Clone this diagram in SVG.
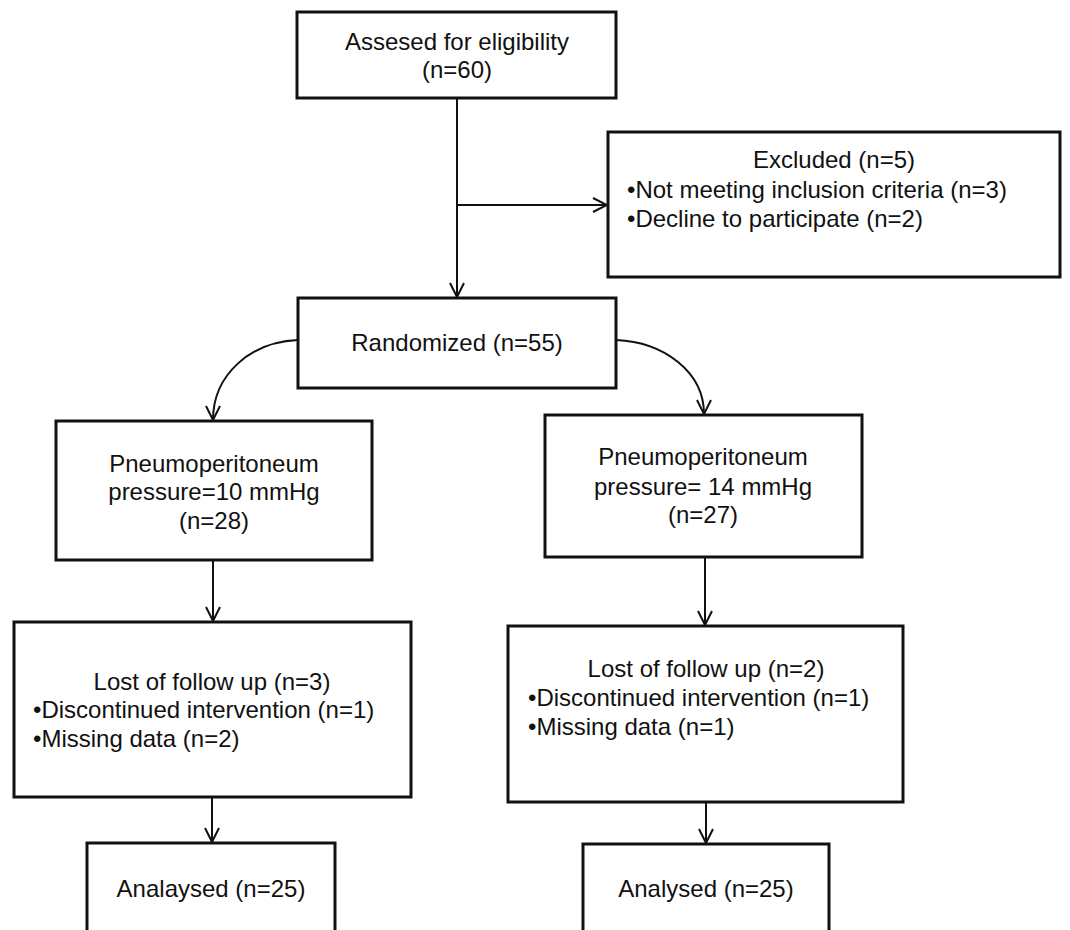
<svg xmlns="http://www.w3.org/2000/svg" width="1070" height="930" viewBox="0 0 1070 930">
<defs>
<marker id="arr" viewBox="0 0 16 16" refX="15" refY="8" markerWidth="16" markerHeight="16" markerUnits="userSpaceOnUse" orient="auto">
<path d="M1,1 L15,8 L1,15" fill="none" stroke="#111" stroke-width="2"/>
</marker>
<style>
.box{fill:#fff;stroke:#111;stroke-width:3}
.t{font-family:"Liberation Sans",Arial,sans-serif;font-size:24px;fill:#111}
.c{text-anchor:middle}
.ln{fill:none;stroke:#111;stroke-width:2;marker-end:url(#arr)}
</style>
</defs>
<rect width="1070" height="930" fill="#fff"/>
<g id="connectors">
<path class="ln" d="M457,98 L457,297"/>
<path class="ln" d="M457,205 L607,205"/>
<path class="ln" d="M298,340 C250,342 213,375 213,420"/>
<path class="ln" d="M616,340 C664,342 704,372 704,414"/>
<path class="ln" d="M213,560 L213,621"/>
<path class="ln" d="M705,557 L705,625"/>
<path class="ln" d="M212,797 L212,842"/>
<path class="ln" d="M706,802 L706,843"/>
</g>
<g id="assessed">
<rect class="box" x="297" y="12" width="319" height="86"/>
<text class="t c" x="457" y="50">Assesed for eligibility</text>
<text class="t c" x="457" y="78">(n=60)</text>
</g>
<g id="excluded">
<rect class="box" x="608" y="132" width="452" height="145"/>
<text class="t c" x="834" y="168">Excluded (n=5)</text>
<text class="t" x="627" y="198">•Not meeting inclusion criteria (n=3)</text>
<text class="t" x="627" y="227">•Decline to participate (n=2)</text>
</g>
<g id="randomized">
<rect class="box" x="298" y="298" width="318" height="90"/>
<text class="t c" x="457" y="351">Randomized (n=55)</text>
</g>
<g id="group10">
<rect class="box" x="56" y="421" width="316" height="139"/>
<text class="t c" x="214" y="472">Pneumoperitoneum</text>
<text class="t c" x="214" y="500">pressure=10 mmHg</text>
<text class="t c" x="214" y="529">(n=28)</text>
</g>
<g id="group14">
<rect class="box" x="545" y="415" width="317" height="142"/>
<text class="t c" x="703" y="465">Pneumoperitoneum</text>
<text class="t c" x="703" y="495">pressure= 14 mmHg</text>
<text class="t c" x="703" y="523">(n=27)</text>
</g>
<g id="lost10">
<rect class="box" x="14" y="622" width="397" height="175"/>
<text class="t c" x="212" y="690">Lost of follow up (n=3)</text>
<text class="t" x="33" y="718">•Discontinued intervention (n=1)</text>
<text class="t" x="33" y="747">•Missing data (n=2)</text>
</g>
<g id="lost14">
<rect class="box" x="508" y="626" width="395" height="176"/>
<text class="t c" x="706" y="677">Lost of follow up (n=2)</text>
<text class="t" x="528" y="706">•Discontinued intervention (n=1)</text>
<text class="t" x="528" y="735">•Missing data (n=1)</text>
</g>
<g id="analysed10">
<rect class="box" x="87" y="843" width="248" height="100"/>
<text class="t c" x="211" y="897">Analaysed (n=25)</text>
</g>
<g id="analysed14">
<rect class="box" x="583" y="844" width="246" height="100"/>
<text class="t c" x="706" y="897">Analysed (n=25)</text>
</g>
</svg>
